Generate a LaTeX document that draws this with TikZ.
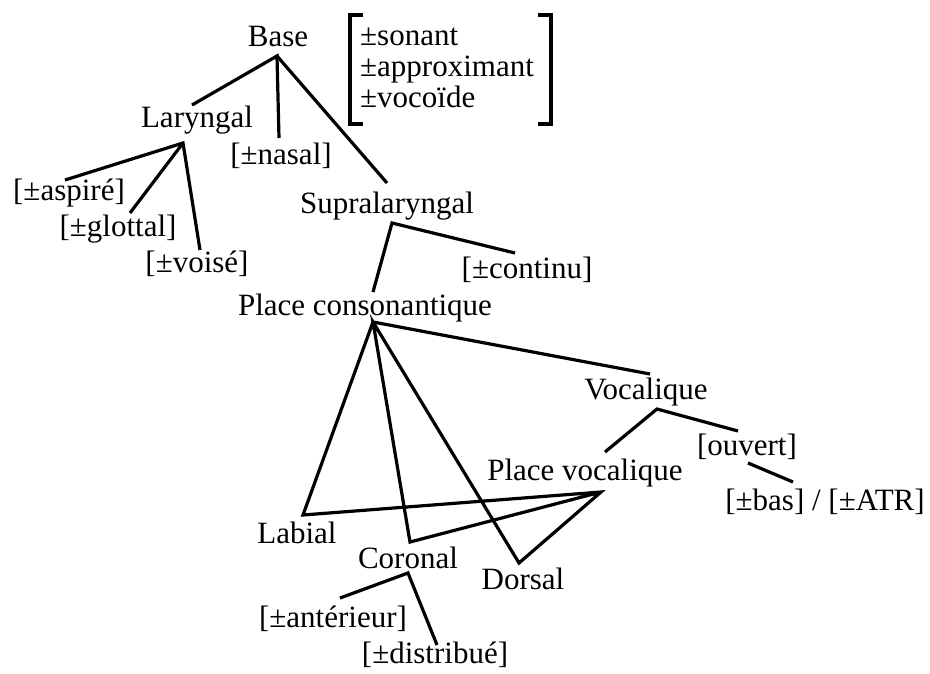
\documentclass[tikz,border=0pt]{standalone}
\usepackage{fontspec}
\setmainfont{Liberation Serif}
\begin{document}
\begin{tikzpicture}[x=1pt,y=-1pt,
  lbl/.style={inner sep=0pt,anchor=base,font=\fontsize{31}{32}\selectfont},
  lblw/.style={lbl,anchor=base west},
  edge/.style={line width=3.2pt,line join=miter,line cap=butt}]
\useasboundingbox (0,0) rectangle (930,673);
% labels
\node[lbl] (base) at (278,46) {Base};
\node[lblw] (son) at (360,45) {±sonant};
\node[lblw] (app) at (360,76) {±approximant};
\node[lblw] (vcd) at (360,107) {±vocoïde};
\node[lbl] (lar) at (197,127) {Laryngal};
\node[lbl] (nas) at (281,164) {[±nasal]};
\node[lbl] (sup) at (387,213) {Supralaryngal};
\node[lbl] (asp) at (69,200) {[±aspiré]};
\node[lbl] (glo) at (118,236) {[±glottal]};
\node[lbl] (vois) at (197,272) {[±voisé]};
\node[lbl] (cont) at (527,278) {[±continu]};
\node[lbl] (pc) at (365,315) {Place consonantique};
\node[lbl] (vocq) at (646,399) {Vocalique};
\node[lbl] (ouv) at (747,455) {[ouvert]};
\node[lbl] (pv) at (585,480) {Place vocalique};
\node[lbl] (bas) at (825,510) {[±bas] / [±ATR]};
\node[lbl] (lab) at (297,543) {Labial};
\node[lbl] (cor) at (408,568) {Coronal};
\node[lbl] (dor) at (523,589) {Dorsal};
\node[lbl] (ant) at (333,627) {[±antérieur]};
\node[lbl] (dis) at (435,663) {[±distribué]};
% attachment points
\coordinate (b0) at (277,56);
\coordinate (larT) at (192,105);
\coordinate (nasT) at (279,138);
\coordinate (supT) at (387,183);
\coordinate (l0) at (183,143);
\coordinate (aspT) at (65,180);
\coordinate (gloT) at (130,213);
\coordinate (voisT) at (200,250);
\coordinate (s0) at (392,223);
\coordinate (pcT) at (373,292);
\coordinate (contT) at (515,253);
\coordinate (p0) at (373,322);
\coordinate (vocqT) at (650,374);
\coordinate (labC) at (303,515);
\coordinate (corC) at (410,542);
\coordinate (dorC) at (519,563);
\coordinate (v0) at (657,409);
\coordinate (pvT) at (605,452);
\coordinate (ouvT) at (738,431);
\coordinate (pv0) at (601,492);
\coordinate (o0) at (748,463);
\coordinate (basT) at (793,482);
\coordinate (c0) at (408,573);
\coordinate (antT) at (340,598);
\coordinate (disT) at (437,645);
% brackets
\draw[edge] (363,15) -- (350,15) -- (350,124) -- (363,124);
\draw[edge] (538,15) -- (551,15) -- (551,124) -- (538,124);
% connectors
\draw[edge] (larT) -- (b0) -- (nasT);
\draw[edge] (b0) -- (supT);
\draw[edge] (aspT) -- (l0) -- (voisT);
\draw[edge] (l0) -- (gloT);
\draw[edge] (pcT) -- (s0) -- (contT);
\draw[edge] (vocqT) -- (p0) -- (labC) -- (pv0) -- (dorC) -- (p0) -- (corC) -- (pv0);
\draw[edge] (pvT) -- (v0) -- (ouvT);
\draw[edge] (o0) -- (basT);
\draw[edge] (antT) -- (c0) -- (disT);
\end{tikzpicture}
\end{document}
